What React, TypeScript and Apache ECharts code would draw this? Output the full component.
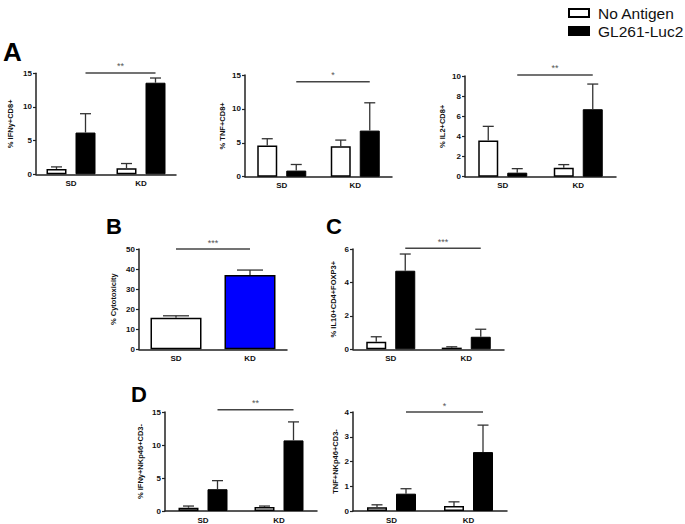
import React, { useEffect, useRef } from "react";
import * as echarts from "echarts";

const categories = ["SD", "KD"];

// Panel A: IFNy+CD8+
const ifnyCd8NoAg = [0.8, 0.9];
const ifnyCd8NoAgTop = [1.1, 1.6];
const ifnyCd8Gl = [6.2, 13.6];
const ifnyCd8GlTop = [9.0, 14.3];
// Panel A: TNF+CD8+
const tnfCd8NoAg = [4.6, 4.5];
const tnfCd8NoAgTop = [5.6, 5.4];
const tnfCd8Gl = [0.9, 6.8];
const tnfCd8GlTop = [1.8, 10.9];
// Panel A: IL2+CD8+
const il2Cd8NoAg = [3.6, 0.9];
const il2Cd8NoAgTop = [5.0, 1.2];
const il2Cd8Gl = [0.4, 6.7];
const il2Cd8GlTop = [0.8, 9.2];
// Panel B: cytotoxicity
const cytotox = [15.7, 37.0];
const cytotoxTop = [16.7, 39.5];
// Panel C: IL10+CD4+FOXP3+
const il10NoAg = [0.45, 0.1];
const il10NoAgTop = [0.75, 0.15];
const il10Gl = [4.7, 0.75];
const il10GlTop = [5.7, 1.2];
// Panel D: IFNy+NKp46+CD3-
const nkIfnyNoAg = [0.5, 0.6];
const nkIfnyNoAgTop = [0.75, 0.75];
const nkIfnyGl = [3.3, 10.7];
const nkIfnyGlTop = [4.6, 13.5];
// Panel D: TNF+NKp46+CD3-
const nkTnfNoAg = [0.15, 0.2];
const nkTnfNoAgTop = [0.25, 0.37];
const nkTnfGl = [0.7, 2.38];
const nkTnfGlTop = [0.9, 3.47];

const FONT = "Liberation Sans, Arial, sans-serif";
const OFF = 14.5;

type Panel = {
  grid: { left: number; top: number; width: number; height: number };
  max: number;
  interval: number;
  name: string;
  nameGap: number;
  noAg: number[];
  noAgTop: number[];
  gl: number[];
  glTop: number[];
  sigY: number;
  sig: string;
};

const groupedPanels: Panel[] = [
  { grid: { left: 36, top: 73.3, width: 140, height: 101 }, max: 15, interval: 5, name: "% IFNy+CD8+", nameGap: 22, noAg: ifnyCd8NoAg, noAgTop: ifnyCd8NoAgTop, gl: ifnyCd8Gl, glTop: ifnyCd8GlTop, sigY: 15.05, sig: "**" },
  { grid: { left: 245, top: 75, width: 147, height: 101.7 }, max: 15, interval: 5, name: "% TNF+CD8+", nameGap: 19, noAg: tnfCd8NoAg, noAgTop: tnfCd8NoAgTop, gl: tnfCd8Gl, glTop: tnfCd8GlTop, sigY: 14.0, sig: "*" },
  { grid: { left: 465, top: 76, width: 151, height: 100.7 }, max: 10, interval: 2, name: "% IL2+CD8+", nameGap: 19, noAg: il2Cd8NoAg, noAgTop: il2Cd8NoAgTop, gl: il2Cd8Gl, glTop: il2Cd8GlTop, sigY: 10.1, sig: "**" },
  { grid: { left: 353, top: 249, width: 151, height: 100.3 }, max: 6, interval: 2, name: "% IL10+CD4+FOXP3+", nameGap: 16, noAg: il10NoAg, noAgTop: il10NoAgTop, gl: il10Gl, glTop: il10GlTop, sigY: 6.05, sig: "***" },
  { grid: { left: 165, top: 412, width: 152, height: 100 }, max: 15, interval: 5, name: "% IFNy+NKp46+CD3-", nameGap: 21, noAg: nkIfnyNoAg, noAgTop: nkIfnyNoAgTop, gl: nkIfnyGl, glTop: nkIfnyGlTop, sigY: 15.35, sig: "**" },
  { grid: { left: 353, top: 412, width: 154, height: 100 }, max: 4, interval: 1, name: "TNF+NKp46+CD3-", nameGap: 14, noAg: nkTnfNoAg, noAgTop: nkTnfNoAgTop, gl: nkTnfGl, glTop: nkTnfGlTop, sigY: 4.0, sig: "*" },
];

const bGrid = { left: 139, top: 249, width: 148, height: 100.3 };

function makeXAxis(gridIndex: number) {
  return {
    type: "category",
    gridIndex,
    data: categories,
    axisLine: { lineStyle: { color: "#222", width: 1.5 } },
    axisTick: { show: false },
    axisLabel: { fontSize: 8, fontWeight: "bold", color: "#111", margin: 5, fontFamily: FONT },
  };
}

function makeYAxis(gridIndex: number, max: number, interval: number, name: string, nameGap: number) {
  return {
    type: "value",
    gridIndex,
    min: 0,
    max,
    interval,
    name,
    nameLocation: "middle",
    nameGap,
    nameTextStyle: { fontSize: 7.5, fontWeight: "bold", color: "#111", fontFamily: FONT },
    axisLine: { show: true, lineStyle: { color: "#222", width: 1.5 } },
    axisTick: { show: true, length: 3, lineStyle: { color: "#222", width: 1.2 } },
    axisLabel: { fontSize: 8, fontWeight: "bold", color: "#111", margin: 4, fontFamily: FONT },
    splitLine: { show: false },
  };
}

function errorSeries(idx: number, items: number[][], off: number, capW: number) {
  return {
    type: "custom",
    xAxisIndex: idx,
    yAxisIndex: idx,
    silent: true,
    z: 3,
    data: items,
    renderItem: (params: any, api: any) => {
      const cat = api.value(0);
      const s = api.value(1);
      const base = api.coord([cat, 0]);
      const cx = base[0] + (s === 0 ? -off : off);
      const yv = api.coord([cat, api.value(2)])[1];
      const yt = api.coord([cat, api.value(3)])[1];
      const st = { stroke: "#333", lineWidth: 1.3 };
      return {
        type: "group",
        children: [
          { type: "line", shape: { x1: cx, y1: yv, x2: cx, y2: yt }, style: st },
          { type: "line", shape: { x1: cx - capW / 2, y1: yt, x2: cx + capW / 2, y2: yt }, style: st },
        ],
      };
    },
  };
}

function sigSeries(idx: number, y: number, label: string, off: number) {
  return {
    type: "custom",
    xAxisIndex: idx,
    yAxisIndex: idx,
    silent: true,
    z: 4,
    data: [[0, y]],
    renderItem: (params: any, api: any) => {
      const p0 = api.coord([0, api.value(1)]);
      const p1 = api.coord([1, api.value(1)]);
      const x0 = p0[0] + off;
      const x1 = p1[0] + off;
      return {
        type: "group",
        children: [
          { type: "line", shape: { x1: x0, y1: p0[1], x2: x1, y2: p0[1] }, style: { stroke: "#444", lineWidth: 1.5 } },
          {
            type: "text",
            x: (x0 + x1) / 2,
            y: p0[1] - 2,
            style: { text: label, fill: "#555", fontSize: 9, fontFamily: FONT, align: "center", verticalAlign: "bottom" },
          },
        ],
      };
    },
  };
}

function buildOption() {
  const grids: any[] = [];
  const xAxes: any[] = [];
  const yAxes: any[] = [];
  const series: any[] = [];

  groupedPanels.forEach((p, i) => {
    grids.push({ ...p.grid, containLabel: false });
    xAxes.push(makeXAxis(i));
    yAxes.push(makeYAxis(i, p.max, p.interval, p.name, p.nameGap));
    series.push({
      type: "bar",
      name: "No Antigen",
      xAxisIndex: i,
      yAxisIndex: i,
      data: p.noAg,
      barWidth: 20,
      barGap: "45%",
      itemStyle: { color: "#ffffff", borderColor: "#000", borderWidth: 1.5 },
    });
    series.push({
      type: "bar",
      name: "GL261-Luc2",
      xAxisIndex: i,
      yAxisIndex: i,
      data: p.gl,
      barWidth: 20,
      barGap: "45%",
      itemStyle: { color: "#000000", borderColor: "#000", borderWidth: 1 },
    });
    const items: number[][] = [];
    categories.forEach((_, c) => {
      items.push([c, 0, p.noAg[c], p.noAgTop[c]]);
      items.push([c, 1, p.gl[c], p.glTop[c]]);
    });
    series.push(errorSeries(i, items, OFF, 11));
    series.push(sigSeries(i, p.sigY, p.sig, OFF));
  });

  const bi = groupedPanels.length;
  grids.push({ ...bGrid });
  xAxes.push(makeXAxis(bi));
  yAxes.push(makeYAxis(bi, 50, 10, "% Cytotoxicity", 22));
  const bColors = ["#ffffff", "#0000ff"];
  series.push({
    type: "bar",
    name: "Cytotoxicity",
    xAxisIndex: bi,
    yAxisIndex: bi,
    barWidth: 51,
    data: cytotox.map((v, k) => ({ value: v, itemStyle: { color: bColors[k] } })),
    itemStyle: { borderColor: "#000", borderWidth: 1.5 },
  });
  series.push(
    errorSeries(
      bi,
      cytotox.map((v, k) => [k, 0, v, cytotoxTop[k]]),
      0,
      26
    )
  );
  series.push(sigSeries(bi, 50, "***", 0));

  const letter = (t: string, x: number, y: number, size: number) => ({
    type: "text",
    left: x,
    top: y,
    style: { text: t, fill: "#000", font: `bold ${size}px ${FONT}` },
  });

  return {
    animation: false,
    backgroundColor: "#ffffff",
    grid: grids,
    xAxis: xAxes,
    yAxis: yAxes,
    series,
    legend: {
      data: ["No Antigen", "GL261-Luc2"],
      orient: "vertical",
      left: 563,
      top: 0,
      itemWidth: 20,
      itemHeight: 8,
      itemGap: 2,
      icon: "rect",
      selectedMode: false,
      textStyle: { fontSize: 15.5, color: "#111", fontFamily: FONT, padding: [0, 0, 0, 4] },
    },
    graphic: [
      letter("A", 3, 39, 26),
      letter("B", 106, 215, 22),
      letter("C", 326, 215, 22),
      letter("D", 131, 383, 22),
    ],
  };
}

export default function App() {
  const ref = useRef<HTMLDivElement>(null);
  useEffect(() => {
    if (!ref.current) return;
    const chart = echarts.init(ref.current, null, { renderer: "svg" });
    chart.setOption(buildOption() as any);
    return () => chart.dispose();
  }, []);
  return (
    <div
      ref={ref}
      style={{ position: "fixed", left: 0, top: 0, width: 685, height: 524, background: "#fff" }}
    />
  );
}
